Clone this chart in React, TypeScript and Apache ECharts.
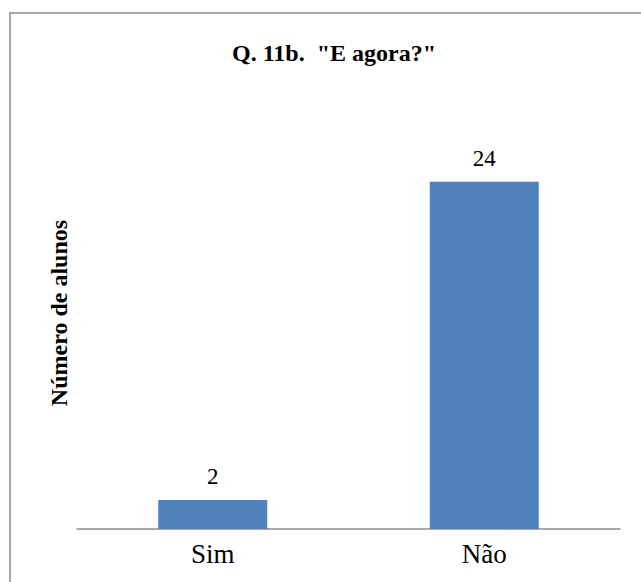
import React, { useEffect, useRef } from "react";
import * as echarts from "echarts";

const categories = ["Sim", "Não"];
const values = [2, 24];
const titleText = 'Q. 11b.  "E agora?"';
const yAxisTitle = "Número de alunos";

const FONT = "Liberation Serif, Times New Roman, serif";

export default function App() {
  const ref = useRef<HTMLDivElement>(null);

  useEffect(() => {
    if (!ref.current) return;
    const chart = echarts.init(ref.current, null, { renderer: "svg" });
    chart.setOption({
      animation: false,
      backgroundColor: "#ffffff",
      title: {
        text: titleText,
        left: 329,
        top: 36,
        textAlign: "center",
        textStyle: { fontFamily: FONT, fontWeight: "bold", fontSize: 24, color: "#000" },
      },
      graphic: [
        {
          type: "rect",
          shape: { x: 10, y: 13, width: 660, height: 600 },
          style: { fill: "none", stroke: "#8c8c8c", lineWidth: 1.5 },
          silent: true,
        },
        {
          type: "text",
          x: 59,
          y: 313,
          rotation: Math.PI / 2,
          style: {
            text: yAxisTitle,
            fontFamily: FONT,
            fontWeight: "bold",
            fontSize: 24,
            fill: "#000",
            align: "center",
            verticalAlign: "middle",
          },
          silent: true,
        },
      ],
      grid: { left: 77, right: 21, top: 124, bottom: 53 },
      xAxis: {
        type: "category",
        data: categories,
        axisLine: { show: true, lineStyle: { color: "#8c8c8c", width: 1.5 } },
        axisTick: { show: false },
        axisLabel: { fontFamily: FONT, fontSize: 27, color: "#000", margin: 11 },
      },
      yAxis: {
        type: "value",
        min: 0,
        max: 28,
        interval: 4,
        axisLine: { show: false },
        axisTick: { show: false },
        axisLabel: { show: false },
        splitLine: { show: false },
      },
      series: [
        {
          type: "bar",
          data: values,
          barWidth: 109,
          itemStyle: { color: "#4f81bd" },
          label: {
            show: true,
            position: "top",
            distance: 12,
            fontFamily: FONT,
            fontSize: 23,
            color: "#000",
          },
        },
      ],
    });
    return () => chart.dispose();
  }, []);

  return (
    <div
      ref={ref}
      style={{ position: "absolute", left: 0, top: 0, width: 641, height: 582 }}
    />
  );
}
